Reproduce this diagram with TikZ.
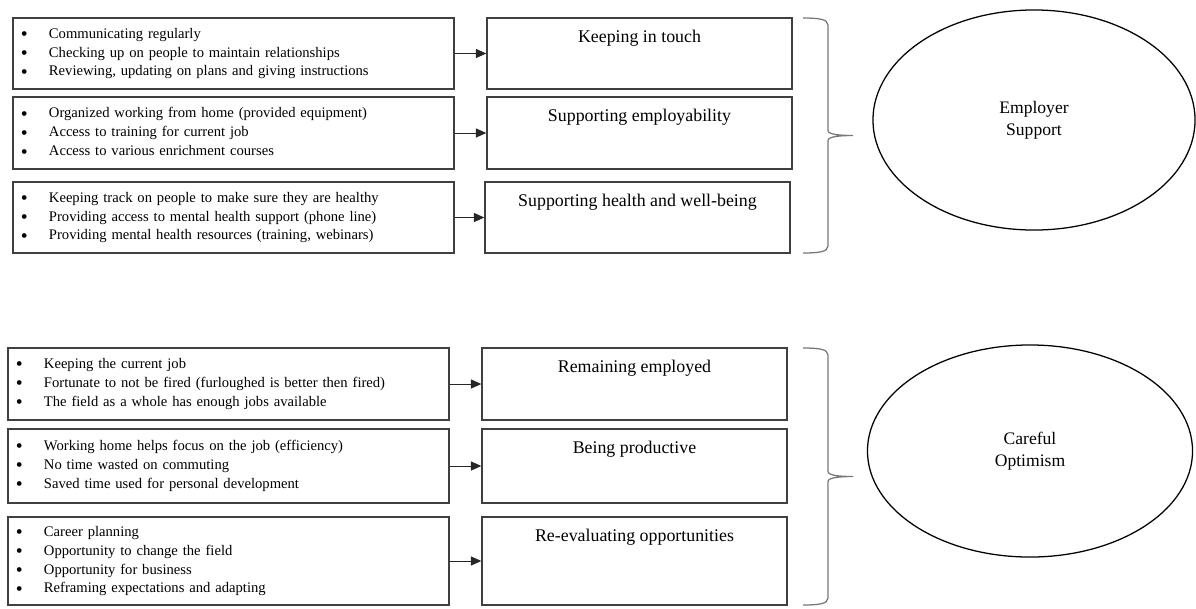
\documentclass[tikz,border=0pt]{standalone}
\usepackage{fontspec}
\setmainfont{Liberation Serif}
\usepackage{tikz}
\usetikzlibrary{shapes.geometric, arrows.meta, positioning}
\definecolor{lineg}{RGB}{64,64,64}
\definecolor{braceg}{RGB}{120,120,120}
\newcommand{\bitem}{\makebox[0.7cm][l]{\raisebox{-0.35ex}{\fontsize{14}{13.5}\selectfont\textbullet}}}
% brace: left x, top y, bottom y (px units of the picture)
\newcommand{\bracepath}[3]{%
  \draw[groupbrace] (#1,#2) .. controls ({#1+15},#2) and ({#1+25},{#2+1}) .. ({#1+25},{#2+7})
    -- ({#1+25},{(#2+#3)/2-5}) .. controls ({#1+25},{(#2+#3)/2-1}) and ({#1+37},{(#2+#3)/2}) .. ({#1+50},{(#2+#3)/2})
    .. controls ({#1+37},{(#2+#3)/2}) and ({#1+25},{(#2+#3)/2+1}) .. ({#1+25},{(#2+#3)/2+5})
    -- ({#1+25},{#3-7}) .. controls ({#1+25},{#3-1}) and ({#1+15},#3) .. (#1,#3);}

\begin{document}
\begin{tikzpicture}[x=0.025cm, y=-0.025cm,
    itembox/.style={draw=lineg, line width=0.9pt, minimum width=11.025cm, text width=10.625cm,
      inner xsep=0.2cm, align=left, font=\fontsize{10.4}{13.5}\selectfont},
    headbox/.style={draw=lineg, line width=0.9pt, minimum width=7.625cm},
    boxtitle/.style={anchor=north, inner sep=0pt, yshift=-0.3cm, font=\fontsize{12.7}{15}\selectfont},
    themeoval/.style={draw=black, line width=0.9pt, ellipse, align=center, font=\fontsize{12.5}{15.5}\selectfont},
    linkarrow/.style={draw=black!85, line width=0.7pt, -{Triangle[length=7.5pt,width=6.5pt]}},
    groupbrace/.style={draw=braceg, line width=0.9pt}]
  \useasboundingbox (0,0) rectangle (1196,608);
  % Employer support -- top group
  \node[itembox, minimum height=1.775cm] (s1) at (233.5,53.5)
    {\bitem Communicating regularly\\ \bitem Checking up on people to maintain relationships\\ \bitem Reviewing, updating on plans and giving instructions};
  \node[itembox, minimum height=1.8cm] (s2) at (233.5,133)
    {\bitem Organized working from home (provided equipment)\\ \bitem Access to training for current job\\ \bitem Access to various enrichment courses};
  \node[itembox, minimum height=1.775cm] (s3) at (233.5,217.5)
    {\bitem Keeping track on people to make sure they are healthy\\ \bitem Providing access to mental health support (phone line)\\ \bitem Providing mental health resources (training, webinars)};
  \node[headbox, minimum height=1.775cm, label={[boxtitle]north:Keeping in touch}] (h1) at (639.5,53.5) {};
  \node[headbox, minimum height=1.8cm, label={[boxtitle]north:Supporting employability}] (h2) at (639.5,133) {};
  \node[headbox, minimum height=1.775cm, label={[boxtitle]north:Supporting health and well-being}] (h3) at (637.5,217.5) {};
  \draw[linkarrow] (s1) -- (h1);
  \draw[linkarrow] (s2) -- (h2);
  \draw[linkarrow] (s3) -- (h3);
  \bracepath{803}{18}{253}
  \node[themeoval, minimum width=8.05cm, minimum height=5.5cm] (emp) at (1034,120) {Employer\\Support};
  % Careful optimism -- bottom group
  \node[itembox, minimum height=1.8cm] (o1) at (228.5,384)
    {\bitem Keeping the current job\\ \bitem Fortunate to not be fired (furloughed is better then fired)\\ \bitem The field as a whole has enough jobs available};
  \node[itembox, minimum height=1.85cm] (o2) at (228.5,466)
    {\bitem Working home helps focus on the job (efficiency)\\ \bitem No time wasted on commuting\\ \bitem Saved time used for personal development};
  \node[itembox, minimum height=2.2cm] (o3) at (228.5,561)
    {\bitem Career planning\\ \bitem Opportunity to change the field\\ \bitem Opportunity for business\\ \bitem Reframing expectations and adapting};
  \node[headbox, minimum height=1.8cm, label={[boxtitle]north:Remaining employed}] (g1) at (634.5,384) {};
  \node[headbox, minimum height=1.85cm, label={[boxtitle]north:Being productive}] (g2) at (634.5,466) {};
  \node[headbox, minimum height=2.2cm, label={[boxtitle]north:Re-evaluating opportunities}] (g3) at (634.5,561) {};
  \draw[linkarrow] (o1) -- (g1);
  \draw[linkarrow] (o2) -- (g2);
  \draw[linkarrow] (o3) -- (g3);
  \bracepath{803}{348}{605}
  \node[themeoval, minimum width=8.125cm, minimum height=5.3cm] (opt) at (1030,451) {Careful\\Optimism};
\end{tikzpicture}
\end{document}
